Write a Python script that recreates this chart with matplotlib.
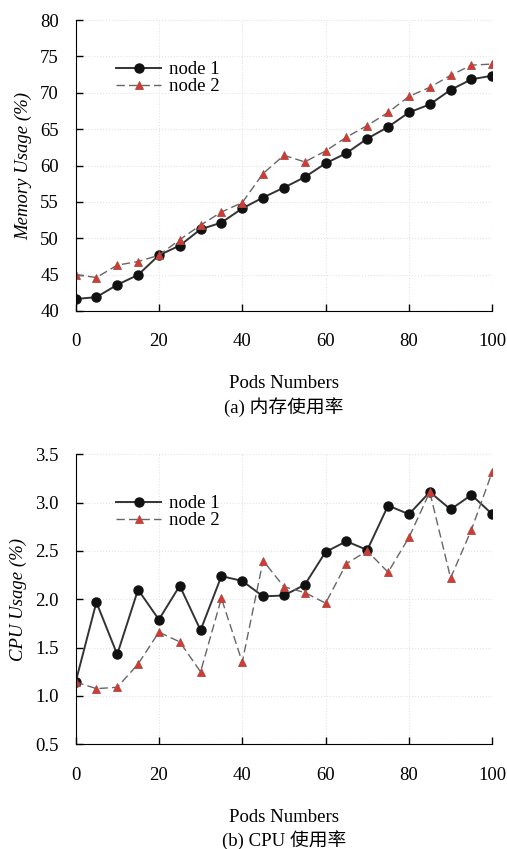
import matplotlib
matplotlib.use("Agg")
import matplotlib.pyplot as plt
from matplotlib.ticker import FormatStrFormatter

plt.rcParams['font.family'] = ['Liberation Serif', 'Noto Sans CJK SC']
plt.rcParams['font.size'] = 13.5

pods = [0, 5, 10, 15, 20, 25, 30, 35, 40, 45, 50, 55, 60, 65, 70, 75, 80, 85, 90, 95, 100]

# memory usage (%)
mem_node1 = [41.65, 41.9, 43.6, 44.96, 47.66, 48.99, 51.23, 52.15, 54.1, 55.6, 56.96,
             58.4, 60.3, 61.7, 63.7, 65.3, 67.3, 68.4, 70.4, 71.85, 72.35]
mem_node2 = [45.0, 44.6, 46.3, 46.8, 47.66, 49.8, 51.8, 53.6, 54.9, 58.9, 61.4,
             60.5, 62.0, 63.9, 65.5, 67.3, 69.5, 70.75, 72.4, 73.8, 73.95]

# cpu usage (%)
cpu_node1 = [1.14, 1.97, 1.43, 2.10, 1.79, 2.14, 1.68, 2.24, 2.19, 2.03, 2.04,
             2.15, 2.49, 2.60, 2.51, 2.97, 2.88, 3.11, 2.93, 3.08, 2.88]
cpu_node2 = [1.145, 1.076, 1.09, 1.33, 1.66, 1.56, 1.25, 2.01, 1.35, 2.40, 2.13,
             2.07, 1.96, 2.37, 2.50, 2.28, 2.64, 3.11, 2.22, 2.72, 3.32]

fig = plt.figure(figsize=(5.07, 8.49), dpi=100)
ax1 = fig.add_axes([0.149, 0.6337, 0.822, 0.3427])
ax2 = fig.add_axes([0.149, 0.1233, 0.822, 0.3416])


def style(ax, n1, n2, ylim, yticks, ylabel, caption):
    ax.plot(pods, n1, color='#333333', lw=1.4, marker='o', ms=6.5,
            mfc='#111111', mec='#111111', label='node 1')
    ax.plot(pods, n2, color='#666666', lw=1.0, ls=(0, (6, 3)), marker='^', ms=6,
            mfc='#d43a32', mec='#a84a44', mew=0.6, label='node 2')
    ax.set_xlim(0, 100)
    ax.set_ylim(*ylim)
    ax.set_xticks([0, 20, 40, 60, 80, 100])
    ax.set_yticks(yticks)
    ax.grid(True, color='#e3e3e3', lw=0.8, ls=':')
    ax.set_axisbelow(True)
    for s in ['top', 'right']:
        ax.spines[s].set_visible(False)
    ax.tick_params(direction='in', length=5, width=1)
    ax.tick_params(axis='x', pad=16)
    ax.tick_params(axis='y', pad=12)
    ax.set_ylabel(ylabel, style='italic', labelpad=6)
    ax.set_xlabel('Pods Numbers', labelpad=18)
    ax.text(0.5, -0.33, caption, transform=ax.transAxes, ha='center', va='center')
    ax.legend(loc='upper left', bbox_to_anchor=(0.08, 0.885), frameon=False,
              handlelength=2.4, borderaxespad=0, labelspacing=0.0, handletextpad=0.4)


style(ax1, mem_node1, mem_node2, (40, 80), [40, 45, 50, 55, 60, 65, 70, 75, 80],
      'Memory Usage (%)', '(a) 内存使用率')
style(ax2, cpu_node1, cpu_node2, (0.5, 3.5), [0.5, 1.0, 1.5, 2.0, 2.5, 3.0, 3.5],
      'CPU Usage (%)', '(b) CPU 使用率')
ax2.yaxis.set_major_formatter(FormatStrFormatter('%.1f'))

fig.savefig('out.png', dpi=100)
